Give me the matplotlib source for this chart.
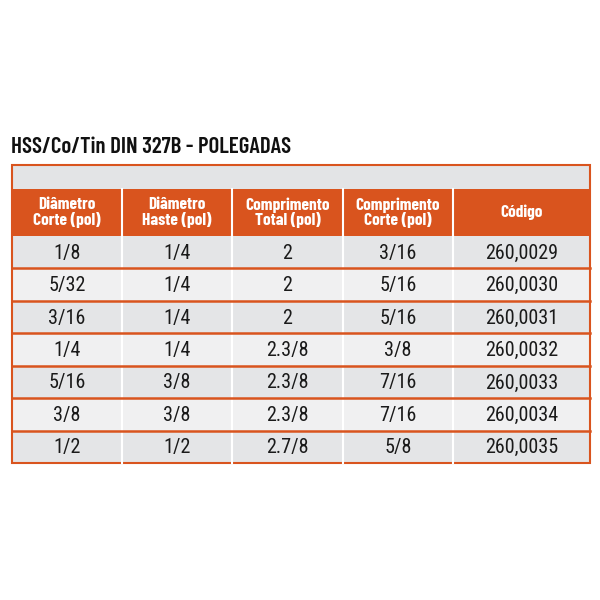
import matplotlib.pyplot as plt
from matplotlib.patches import Rectangle

# table content
title = 'HSS/Co/Tin DIN 327B - POLEGADAS'
headers = ['Diâmetro\nCorte (pol)', 'Diâmetro\nHaste (pol)', 'Comprimento\nTotal (pol)',
           'Comprimento\nCorte (pol)', 'Código']
corte = ['1/8', '5/32', '3/16', '1/4', '5/16', '3/8', '1/2']
haste = ['1/4', '1/4', '1/4', '1/4', '3/8', '3/8', '1/2']
comp_total = ['2', '2', '2', '2.3/8', '2.3/8', '2.3/8', '2.7/8']
comp_corte = ['3/16', '5/16', '5/16', '3/8', '7/16', '7/16', '5/8']
codigo = ['260,0029', '260,0030', '260,0031', '260,0032', '260,0033', '260,0034', '260,0035']

orange = '#d9541e'
band = '#e3e4e6'
row_colors = ['#e4e5e7', '#f0f0f1']

# layout in pixels
col_edges = [12, 122, 232, 343, 453, 590]
top_band, top_head, top_rows, bottom = 165, 189, 236, 463
row_h = (bottom - top_rows) / len(corte)

narrow = ['Barlow Condensed', 'DejaVu Sans']
plain = ['Roboto Condensed', 'Liberation Sans', 'DejaVu Sans']

fig = plt.figure(figsize=(6, 6), dpi=100)
ax = fig.add_axes([0, 0, 1, 1])
ax.set_xlim(0, 600)
ax.set_ylim(600, 0)
ax.axis('off')

ax.text(11, 147, title, fontsize=16.5, fontweight='semibold', family=narrow,
        va='center', ha='left', color='#111111')

# gray band and header
x0, x1 = col_edges[0], col_edges[-1]
ax.add_patch(Rectangle((x0, top_band), x1 - x0, top_head - top_band, color=band, lw=0))
ax.add_patch(Rectangle((x0, top_head), x1 - x0, top_rows - top_head, color=orange, lw=0))

for i, h in enumerate(headers):
    cx = (col_edges[i] + col_edges[i + 1]) / 2
    ax.text(cx, (top_head + top_rows) / 2, h, color='white', fontsize=12.5,
            fontweight='bold', family=narrow, ha='center', va='center', linespacing=0.95)

# data rows
columns = [corte, haste, comp_total, comp_corte, codigo]
for r in range(len(corte)):
    y = top_rows + r * row_h
    ax.add_patch(Rectangle((x0, y), x1 - x0, row_h, color=row_colors[r % 2], lw=0))
    for c, col in enumerate(columns):
        cx = (col_edges[c] + col_edges[c + 1]) / 2
        ax.text(cx, y + row_h / 2 + 1, col[r], fontsize=14.5, family=plain,
                ha='center', va='center', color='#1a1a1a')

# separators
for xe in col_edges[1:-1]:
    ax.plot([xe, xe], [top_head, top_rows], color='white', lw=1.5)
    ax.plot([xe, xe], [top_rows, bottom], color='white', lw=1.5)
for r in range(1, len(corte)):
    y = top_rows + r * row_h
    ax.plot([x0, x1], [y, y], color=orange, lw=1.8)

ax.add_patch(Rectangle((x0, top_band), x1 - x0, bottom - top_band, fill=False,
                       edgecolor=orange, lw=1.5))

fig.savefig('out.png', dpi=100, facecolor='white')
